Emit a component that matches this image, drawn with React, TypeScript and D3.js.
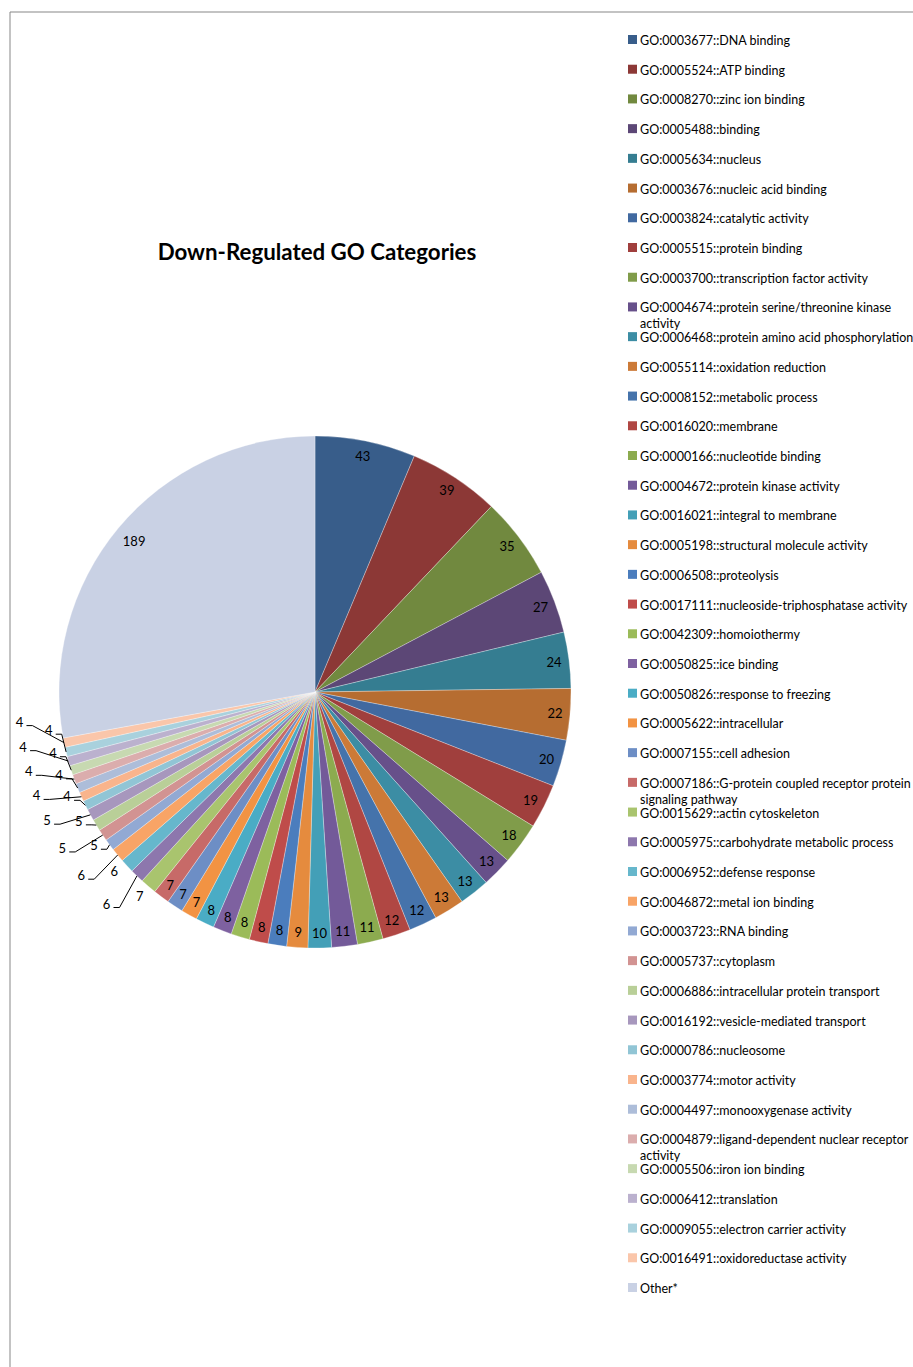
import React from 'react';
import * as d3 from 'd3';

const title = 'Down-Regulated GO Categories';

const categories: string[] = [
  'GO:0003677::DNA binding',
  'GO:0005524::ATP binding',
  'GO:0008270::zinc ion binding',
  'GO:0005488::binding',
  'GO:0005634::nucleus',
  'GO:0003676::nucleic acid binding',
  'GO:0003824::catalytic activity',
  'GO:0005515::protein binding',
  'GO:0003700::transcription factor activity',
  'GO:0004674::protein serine/threonine kinase activity',
  'GO:0006468::protein amino acid phosphorylation',
  'GO:0055114::oxidation reduction',
  'GO:0008152::metabolic process',
  'GO:0016020::membrane',
  'GO:0000166::nucleotide binding',
  'GO:0004672::protein kinase activity',
  'GO:0016021::integral to membrane',
  'GO:0005198::structural molecule activity',
  'GO:0006508::proteolysis',
  'GO:0017111::nucleoside-triphosphatase activity',
  'GO:0042309::homoiothermy',
  'GO:0050825::ice binding',
  'GO:0050826::response to freezing',
  'GO:0005622::intracellular',
  'GO:0007155::cell adhesion',
  'GO:0007186::G-protein coupled receptor protein signaling pathway',
  'GO:0015629::actin cytoskeleton',
  'GO:0005975::carbohydrate metabolic process',
  'GO:0006952::defense response',
  'GO:0046872::metal ion binding',
  'GO:0003723::RNA binding',
  'GO:0005737::cytoplasm',
  'GO:0006886::intracellular protein transport',
  'GO:0016192::vesicle-mediated transport',
  'GO:0000786::nucleosome',
  'GO:0003774::motor activity',
  'GO:0004497::monooxygenase activity',
  'GO:0004879::ligand-dependent nuclear receptor activity',
  'GO:0005506::iron ion binding',
  'GO:0006412::translation',
  'GO:0009055::electron carrier activity',
  'GO:0016491::oxidoreductase activity',
];

const values: number[] = [
  43, 39, 35, 27, 24, 22, 20, 19, 18, 13, 13, 13, 12, 12, 11, 11, 10, 9,
  8, 8, 8, 8, 8, 7, 7, 7, 7, 6, 6, 6, 5, 5, 5, 5, 4, 4, 4, 4, 4, 4, 4, 4,
];

const otherLabel = 'Other*';
const otherValue = 189;

const colors: string[] = [
  '#385d8a', '#8c3836', '#71893f', '#5c4776', '#357d91', '#b66d31',
  '#4169a0', '#a03f3d', '#809c4a', '#67508a', '#3c8da4', '#cc7a37',
  '#4573ab', '#b04743', '#8cab4f', '#735a99', '#439fb7', '#e58b3e',
  '#4b7dbd', '#bf4c4a', '#9bbb59', '#7e61a0', '#4aacc5', '#f29343',
  '#6d8ec5', '#c76a68', '#a9c46e', '#8d77ad', '#66b7cc', '#f8a466',
  '#92a9d3', '#d29392', '#b9cf98', '#a797bd', '#91c5d5', '#f9b48c',
  '#adbdd9', '#dbadad', '#c7d9b1', '#bbb1ce', '#a9d1dd', '#fac6aa',
  '#c9d1e4',
];

const insideLabelCount = 26;

const FONT = 'Lato, "Liberation Sans", Arial, sans-serif';

function wrapText(text: string, maxW: number, font: string): string[] {
  const ctx = document.createElement('canvas').getContext('2d');
  if (!ctx) return [text];
  ctx.font = font;
  if (ctx.measureText(text).width <= maxW) return [text];
  const words = text.split(' ');
  const lines: string[] = [];
  let cur = '';
  for (const w of words) {
    const t = cur ? cur + ' ' + w : w;
    if (ctx.measureText(t).width > maxW && cur) {
      lines.push(cur);
      cur = w;
    } else cur = t;
  }
  lines.push(cur);
  return lines;
}

export default function App() {
  const W = 913;
  const H = 1367;
  const cx = 315;
  const cy = 692;
  const r = 256;

  const labels = [...categories, otherLabel];
  const data = [...values, otherValue];

  const pieData = d3
    .pie<number>()
    .sort(null)
    .value((d) => d)
    .startAngle(0)
    .endAngle(2 * Math.PI)(data);
  const arc = d3.arc<d3.PieArcDatum<number>>().innerRadius(0).outerRadius(r);

  const legendY = d3.scalePoint<string>().domain(labels).range([40, 1288]);
  const legendFontSize = 12.5;

  const color = d3.scaleOrdinal<string, string>().domain(labels).range(colors);

  const labelR = r - 15;
  const insideIdx = pieData
    .map((d, i) => i)
    .filter((i) => i < insideLabelCount || i === categories.length);

  // outside labels: alternate between two rings, spread slightly along the circle
  const outsideData = pieData.slice(insideLabelCount, categories.length);
  const mid = (d: d3.PieArcDatum<number>) => (d.startAngle + d.endAngle) / 2;
  const a0 = mid(outsideData[0]);
  const spread = 1.15;
  const ringGap = 28;
  const outside = outsideData.map((d, j) => {
    const a = mid(d);
    const level = j % 2;
    const la = a0 + (a - a0) * spread;
    const rr = r + 13 + level * ringGap;
    const lx = Math.sin(la) * rr;
    const ly = -Math.cos(la) * rr;
    const ax = Math.sin(a) * r;
    const ay = -Math.cos(a) * r;
    const rx = Math.sin(a) * (r + 13);
    const ry = -Math.cos(a) * (r + 13);
    const line = level > 0 || Math.hypot(lx - rx, ly - ry) > 7;
    return { text: String(d.data), lx, ly, ax, ay, line };
  });

  return (
    <svg
      width={W}
      height={H}
      style={{ position: 'absolute', left: 0, top: 0, background: '#fff' }}
      fontFamily={FONT}
    >
      <line x1={10} y1={12} x2={W} y2={12} stroke="#878787" strokeWidth={1} />
      <line x1={10} y1={12} x2={10} y2={H} stroke="#878787" strokeWidth={1} />

      <text
        x={317}
        y={251}
        textAnchor="middle"
        dominantBaseline="central"
        fontSize={22.3}
        fontWeight="bold"
        fill="#000"
      >
        {title}
      </text>

      <g transform={`translate(${cx},${cy})`}>
        {pieData.map((d, i) => (
          <path
            key={i}
            d={arc(d) || ''}
            fill={color(labels[i])}
            stroke="#ffffff"
            strokeWidth={0.5}
            strokeOpacity={0.6}
          />
        ))}
        {insideIdx.map((i) => {
          const d = pieData[i];
          const a = mid(d);
          const rr = i === categories.length ? r * 0.92 : labelR;
          return (
            <text
              key={'in' + i}
              x={Math.sin(a) * rr}
              y={-Math.cos(a) * rr}
              textAnchor="middle"
              dominantBaseline="central"
              fontSize={13}
              fill="#000"
            >
              {d.data}
            </text>
          );
        })}
        {outside.map((o, i) => (
          <g key={'out' + i}>
            {o.line && (
              <polyline
                points={`${o.ax},${o.ay} ${o.lx + 13},${o.ly + 4} ${o.lx + 7},${o.ly + 4}`}
                fill="none"
                stroke="#000"
                strokeWidth={1}
              />
            )}
            <text
              x={o.lx}
              y={o.ly}
              textAnchor="middle"
              dominantBaseline="central"
              fontSize={13}
              fill="#000"
            >
              {o.text}
            </text>
          </g>
        ))}
      </g>

      <g>
        {labels.map((lab, i) => {
          const y = legendY(lab) as number;
          const lines = wrapText(lab, 280, `${legendFontSize}px ${FONT}`);
          return (
            <g key={'lg' + i}>
              <rect x={628} y={y - 5} width={9} height={9} fill={color(lab)} />
              <text x={640} y={y} fontSize={legendFontSize} fill="#000" dominantBaseline="central">
                {lines.map((ln, j) => (
                  <tspan key={j} x={640} dy={j === 0 ? 0 : 16}>
                    {ln}
                  </tspan>
                ))}
              </text>
            </g>
          );
        })}
      </g>
    </svg>
  );
}
